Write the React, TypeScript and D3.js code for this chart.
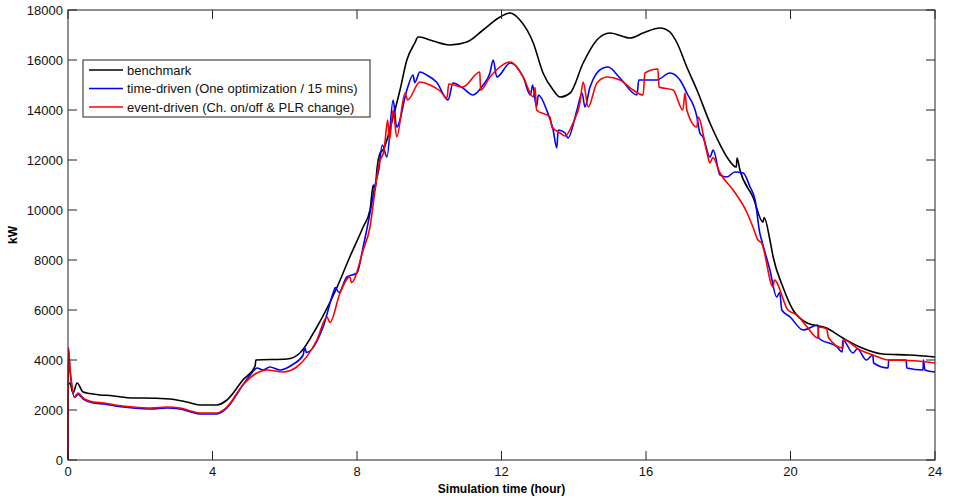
import React from "react";
import * as d3 from "d3";

type P = [number, number];

const xTicks = [0, 4, 8, 12, 16, 20, 24];
const yTicks = [0, 2000, 4000, 6000, 8000, 10000, 12000, 14000, 16000, 18000];

const seriesNames = [
  "benchmark",
  "time-driven (One optimization / 15 mins)",
  "event-driven (Ch. on/off & PLR change)",
];
const seriesColors = ["#000000", "#0000ff", "#ff0000"];

const benchmark: P[] = [
  [0, 3000], [0.05, 3080], [0.14, 2680], [0.25, 3080], [0.42, 2720], [0.6, 2660], [0.89, 2600],
  [1.16, 2580], [1.8, 2480], [2.08, 2480], [2.82, 2440], [3.29, 2320], [3.65, 2200], [4.12, 2200],
  [4.4, 2400], [4.84, 3200], [5.18, 3760], [5.2, 4000], [6.06, 4040], [6.42, 4280], [6.89, 5320],
  [7.45, 6920], [7.8, 8120], [8.17, 9320], [8.36, 10000], [8.45, 11000], [8.5, 10800], [8.55, 11600],
  [8.64, 12280], [8.72, 12400], [9.0, 13720], [9.19, 14800], [9.38, 16000], [9.6, 16680], [9.69, 16920],
  [9.74, 16920], [10.02, 16800], [10.57, 16600], [11.04, 16720], [11.49, 17200], [11.96, 17720],
  [12.24, 17880], [12.51, 17600], [12.88, 16680], [13.15, 15480], [13.43, 14800], [13.62, 14520],
  [13.9, 14680], [14.26, 15880], [14.64, 16800], [15.0, 17080], [15.56, 16880], [15.92, 17080],
  [16.39, 17280], [16.66, 17120], [16.86, 16680], [17.13, 15720], [17.41, 14800], [17.77, 13480],
  [17.96, 12880], [18.24, 12120], [18.5, 11720], [18.52, 12080], [18.6, 11600], [18.96, 10520],
  [19.24, 9520], [19.27, 9700], [19.43, 8800], [19.52, 8120], [19.79, 6920], [20.07, 6000],
  [20.46, 5480], [21.0, 5280], [21.45, 4880], [21.92, 4520], [22.56, 4240], [23.3, 4200], [24, 4120],
];

const timeDriven: P[] = [
  [0, 0], [0.01, 4400], [0.06, 3500], [0.1, 3000], [0.18, 2500], [0.28, 2620], [0.42, 2440],
  [0.7, 2280], [1.0, 2240], [1.3, 2160], [1.8, 2080], [2.3, 2040], [2.74, 2080], [3.1, 2040],
  [3.4, 1920], [3.65, 1840], [4.12, 1840], [4.4, 2080], [4.84, 3000], [5.1, 3500], [5.23, 3680],
  [5.4, 3600], [5.59, 3720], [5.87, 3600], [6.2, 3800], [6.51, 4200], [6.55, 4500], [6.6, 4300],
  [7.06, 5320], [7.34, 6680], [7.4, 6900], [7.5, 6700], [7.72, 7320], [8.0, 7480], [8.17, 8520],
  [8.36, 9880], [8.5, 11000], [8.6, 11600], [8.7, 12600], [8.83, 12120], [9.0, 14400], [9.1, 13320],
  [9.38, 14800], [9.55, 15400], [9.6, 15100], [9.74, 15520], [9.93, 15400], [10.2, 15120],
  [10.52, 14400], [10.66, 15080], [10.93, 14880], [11.21, 14600], [11.49, 15000], [11.68, 15480],
  [11.77, 16000], [11.87, 15320], [12.24, 15880], [12.6, 15320], [12.8, 14600], [12.86, 15000],
  [12.97, 14120], [13.02, 14600], [13.25, 14000], [13.43, 13200], [13.53, 12480], [13.57, 13200],
  [13.76, 13080], [13.84, 12880], [14.09, 14000], [14.23, 14680], [14.31, 14120], [14.45, 14920],
  [14.81, 15680], [14.95, 15720], [15.28, 15280], [15.75, 14600], [15.8, 15200], [16.3, 15200],
  [16.66, 15480], [16.94, 15200], [17.13, 14680], [17.41, 13720], [17.49, 13080], [17.58, 12920],
  [17.77, 12120], [17.86, 12400], [18.05, 11400], [18.24, 11320], [18.46, 11520], [18.69, 11480],
  [18.88, 10920], [19.02, 10400], [19.15, 9080], [19.2, 8800], [19.43, 7600], [19.62, 6520],
  [19.7, 6700], [19.76, 6000], [19.99, 5720], [20.35, 5200], [20.76, 5400], [20.78, 4880],
  [21.29, 4520], [21.43, 4320], [21.45, 4800], [21.73, 4280], [21.85, 4450], [22.1, 4000],
  [22.28, 4200], [22.3, 3880], [22.7, 3680], [22.72, 4000], [23.2, 4000], [23.22, 3680],
  [23.67, 3600], [23.68, 4000], [23.72, 3600], [24, 3520],
];

const eventDriven: P[] = [
  [0, 0], [0.01, 4500], [0.06, 3600], [0.1, 3080], [0.18, 2520], [0.28, 2680], [0.42, 2480],
  [0.7, 2320], [1.0, 2280], [1.3, 2200], [1.8, 2120], [2.3, 2080], [2.74, 2120], [3.1, 2080],
  [3.4, 1960], [3.65, 1880], [4.12, 1880], [4.4, 2120], [4.84, 3000], [5.23, 3480], [5.5, 3600],
  [5.95, 3520], [6.33, 3720], [6.89, 4800], [7.17, 5720], [7.25, 5500], [7.53, 6680], [7.8, 7320],
  [7.85, 7100], [8.17, 8400], [8.36, 9320], [8.5, 10800], [8.6, 11800], [8.75, 12400], [8.85, 13600],
  [8.9, 12800], [9.0, 14000], [9.1, 12920], [9.33, 14680], [9.4, 14400], [9.74, 15120], [10.02, 15000],
  [10.3, 14760], [10.49, 14480], [10.54, 15040], [10.93, 14920], [11.4, 15520], [11.42, 14800],
  [11.68, 15320], [12.24, 15920], [12.6, 15320], [12.88, 14520], [12.93, 14900], [12.97, 14000],
  [13.34, 13720], [13.4, 13320], [13.62, 13080], [13.76, 12960], [13.98, 13480], [14.17, 14280],
  [14.26, 15120], [14.4, 14120], [14.64, 15080], [14.92, 15320], [15.28, 15200], [15.64, 14800],
  [15.92, 14600], [15.97, 15480], [16.33, 15640], [16.36, 14920], [16.75, 14800], [17.02, 14000],
  [17.08, 14680], [17.13, 14000], [17.41, 13320], [17.44, 13720], [17.69, 12280], [17.77, 11880],
  [17.85, 12100], [18.05, 11480], [18.41, 10800], [18.8, 9880], [18.96, 9320], [19.1, 8800],
  [19.2, 8680], [19.52, 6920], [19.55, 7200], [19.93, 6000], [20.18, 5800], [20.46, 5320],
  [20.76, 4880], [20.78, 5320], [21.0, 5250], [21.05, 4900], [21.45, 4480], [21.47, 4800],
  [21.92, 4400], [22.28, 4200], [22.7, 4000], [23.3, 3980], [24, 3880],
];

const allSeries = [benchmark, timeDriven, eventDriven];

export default function App() {
  const W = 954, H = 498;
  const left = 68, right = 935, top = 10, bottom = 460;
  const x = d3.scaleLinear().domain([0, 24]).range([left, right]);
  const y = d3.scaleLinear().domain([0, 18000]).range([bottom, top]);
  const smooth = d3.line<P>().x((d) => x(d[0])).y((d) => y(d[1])).curve(d3.curveMonotoneX);
  const font = "Arial, 'Liberation Sans', Helvetica, sans-serif";
  const tl = 9;
  return (
    <svg width={W} height={H} style={{ position: "absolute", left: 0, top: 0, background: "#fff" }} fontFamily={font}>
      <rect x={0} y={0} width={W} height={H} fill="#fff" />
      <g fill="none" strokeWidth={1.6} strokeLinejoin="round">
        {allSeries.map((s, i) => (
          <path key={i} d={smooth(s) || ""} stroke={seriesColors[i]} />
        ))}
      </g>
      <rect x={left} y={top} width={right - left} height={bottom - top} fill="none" stroke="#222" strokeWidth={1} />
      {xTicks.map((t) => (
        <g key={"x" + t}>
          <line x1={x(t)} x2={x(t)} y1={bottom} y2={bottom - tl} stroke="#222" />
          <line x1={x(t)} x2={x(t)} y1={top} y2={top + tl} stroke="#222" />
          <text x={x(t)} y={bottom + 16} fontSize={13} textAnchor="middle" fill="#111">{t}</text>
        </g>
      ))}
      {yTicks.map((t) => (
        <g key={"y" + t}>
          <line x1={left} x2={left + tl} y1={y(t)} y2={y(t)} stroke="#222" />
          <line x1={right} x2={right - tl} y1={y(t)} y2={y(t)} stroke="#222" />
          <text x={left - 5} y={y(t) + 5} fontSize={13} textAnchor="end" fill="#111">{t}</text>
        </g>
      ))}
      <text x={(left + right) / 2} y={493} fontSize={12} fontWeight="bold" textAnchor="middle" fill="#000">Simulation time (hour)</text>
      <text transform={`translate(17,${(top + bottom) / 2}) rotate(-90)`} fontSize={12} fontWeight="bold" textAnchor="middle" fill="#000">kW</text>
      <rect x={83} y={60} width={287} height={57} fill="#fff" stroke="#222" strokeWidth={1} />
      {seriesNames.map((n, i) => {
        const ly = 70 + i * 18.5;
        return (
          <g key={n}>
            <line x1={89} x2={123} y1={ly} y2={ly} stroke={seriesColors[i]} strokeWidth={1.6} />
            <text x={127} y={ly + 4.5} fontSize={13} fill="#111">{n}</text>
          </g>
        );
      })}
    </svg>
  );
}
